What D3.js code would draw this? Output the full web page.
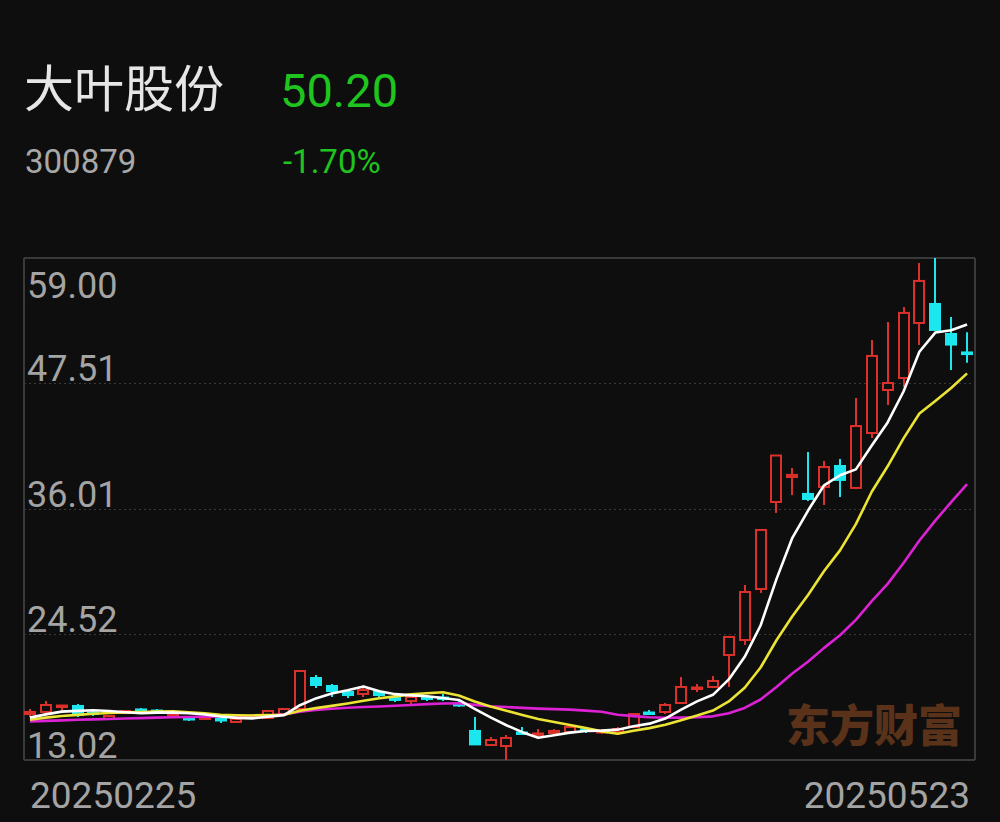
<!DOCTYPE html>
<html>
<head>
<meta charset="utf-8">
<script src="https://cdn.jsdelivr.net/npm/d3@7/dist/d3.min.js"></script>
<style>
html,body{margin:0;padding:0;background:#0e0e0e;}
svg{display:block;}
</style>
</head>
<body>
<svg id="chart" width="1000" height="822"></svg>
<script>
// ---------------- data ----------------
const stockName = "大叶股份";
const stockCode = "300879";
const lastPrice = "50.20";
const changePct = "-1.70%";
const watermark = "东方财富";

const dates = [
  "20250225","20250226","20250227","20250228",
  "20250303","20250304","20250305","20250306","20250307",
  "20250310","20250311","20250312","20250313","20250314",
  "20250317","20250318","20250319","20250320","20250321",
  "20250324","20250325","20250326","20250327","20250328",
  "20250331","20250401","20250402","20250403",
  "20250407","20250408","20250409","20250410","20250411",
  "20250414","20250415","20250416","20250417","20250418",
  "20250421","20250422","20250423","20250424","20250425",
  "20250428","20250429","20250430",
  "20250506","20250507","20250508","20250509",
  "20250512","20250513","20250514","20250515","20250516",
  "20250519","20250520","20250521","20250522","20250523"
];
const opens = [17.23,17.42,17.97,17.97,17.37,16.78,17.33,17.65,17.55,17.19,
  16.87,16.78,16.78,16.50,16.96,16.87,17.23,17.69,20.53,19.80,
  19.25,19.07,19.25,18.79,18.42,18.79,18.74,18.15,15.68,14.39,
  14.30,15.54,15.36,15.49,15.58,15.81,15.54,15.58,16.04,17.37,
  17.42,18.24,19.57,19.71,22.64,24.01,28.68,36.65,38.94,37.39,
  38.03,39.95,37.94,42.97,46.91,48.01,53.05,54.79,52.04,50.35];
const highs = [17.69,18.42,18.06,18.15,17.60,17.14,17.60,17.78,17.69,17.42,
  17.05,17.05,16.96,16.87,17.23,17.60,17.78,21.26,20.81,19.98,
  19.43,19.71,19.43,19.07,18.88,18.97,19.07,18.52,16.96,15.13,
  15.31,16.04,15.86,15.86,16.13,16.04,15.86,16.04,17.33,17.60,
  18.24,20.62,19.98,20.71,24.38,29.05,34.09,40.91,39.77,41.23,
  40.41,40.59,46.18,51.49,53.14,54.51,58.55,59.00,53.60,52.20];
const lows = [16.96,17.32,17.42,16.96,17.05,16.68,17.23,17.42,17.33,17.05,
  16.59,16.68,16.41,16.41,16.87,16.78,17.14,17.60,19.62,18.79,
  18.70,18.79,18.79,18.33,17.97,18.42,18.42,17.87,14.39,14.35,
  13.02,15.31,15.13,15.40,15.49,15.49,15.40,15.49,15.95,17.14,
  17.23,18.24,19.25,19.62,19.71,23.55,28.32,35.65,37.29,36.74,
  36.38,37.11,37.84,42.51,45.54,47.19,51.03,52.32,48.74,49.40];
const closes = [17.42,18.06,18.01,17.14,17.28,17.05,17.51,17.51,17.46,17.28,
  16.73,16.96,16.64,16.78,17.05,17.51,17.69,21.17,19.89,19.34,
  18.97,19.43,18.97,18.52,18.79,18.61,18.61,18.06,14.45,14.85,
  15.04,15.45,15.45,15.68,16.04,15.72,15.68,15.86,17.23,17.28,
  18.06,19.71,19.66,20.26,24.29,28.41,34.09,40.91,39.13,36.93,
  39.86,38.67,43.61,50.03,47.55,53.97,56.90,52.41,51.07,50.20];

// moving averages
const ma5 = [16.90,17.20,17.45,17.52,17.58,17.51,17.40,17.30,17.36,17.36,
  17.30,17.19,17.01,16.88,16.83,16.99,17.13,18.04,18.66,19.12,
  19.41,19.76,19.32,19.05,18.94,18.86,18.70,18.52,17.70,16.92,
  16.20,15.57,15.05,15.29,15.53,15.67,15.71,15.80,16.11,16.35,
  16.82,17.63,18.39,18.99,20.40,22.47,25.34,29.59,33.37,35.89,
  38.18,39.10,39.64,41.82,43.94,46.77,50.41,52.17,52.38,52.91];
const ma10 = [16.70,16.90,17.05,17.15,17.25,17.32,17.38,17.42,17.45,17.47,
  17.40,17.29,17.16,17.12,17.10,17.14,17.16,17.53,17.77,17.98,
  18.20,18.45,18.68,18.85,19.03,19.14,19.23,18.92,18.38,17.93,
  17.53,17.14,16.78,16.50,16.22,15.94,15.64,15.42,15.70,15.94,
  16.25,16.67,17.09,17.55,18.38,19.64,21.49,23.99,26.18,28.15,
  30.33,32.22,34.62,37.59,39.92,42.48,44.76,45.91,47.10,48.43];
const ma20 = [16.55,16.60,16.65,16.70,16.74,16.78,16.82,16.86,16.90,16.93,
  16.96,16.98,17.00,17.02,17.05,17.10,17.20,17.45,17.60,17.72,
  17.80,17.87,17.92,17.99,18.06,18.14,18.20,18.22,18.07,17.95,
  17.87,17.79,17.73,17.68,17.63,17.54,17.44,17.17,17.04,16.93,
  16.89,16.90,16.94,17.02,17.30,17.79,18.56,19.71,20.94,22.04,
  23.29,24.45,25.85,27.57,29.15,31.06,33.12,34.95,36.64,38.29];

const yTicks = [59.00, 47.51, 36.01, 24.52, 13.02];

// ---------------- drawing ----------------
const svg = d3.select("#chart");
const W = 1000, H = 822;
const plot = {left: 24, right: 975, top: 258, bottom: 760};
const UP = "#dc312b", DOWN = "#1ce6ee", BG = "#0e0e0e", GREEN = "#1fc41f";

svg.append("rect").attr("width", W).attr("height", H).attr("fill", BG);

// header
svg.append("text").attr("x", 24).attr("y", 107)
  .attr("font-family", "'Noto Sans CJK SC','Noto Sans',sans-serif")
  .attr("font-size", 50).attr("fill", "#e6e6e6").text(stockName);
svg.append("text").attr("x", 280).attr("y", 107)
  .attr("font-family", "Roboto,'Noto Sans',sans-serif")
  .attr("font-size", 47).attr("fill", GREEN).text(lastPrice);
svg.append("text").attr("x", 25).attr("y", 173)
  .attr("font-family", "Roboto,'Noto Sans',sans-serif")
  .attr("font-size", 33).attr("fill", "#a8a8a8").text(stockCode);
svg.append("text").attr("x", 283).attr("y", 173)
  .attr("font-family", "Roboto,'Noto Sans',sans-serif")
  .attr("font-size", 33).attr("fill", GREEN).text(changePct);

const x = d3.scaleBand().domain(dates).range([22, 975]).paddingInner(0).paddingOuter(0);
const y = d3.scaleLinear().domain([13.02, 59.00]).range([plot.bottom, plot.top]);
const cx = d => x(d) + x.bandwidth() / 2;

// grid (dotted, inner)
svg.append("g").selectAll("line").data(yTicks.slice(1, -1)).join("line")
  .attr("x1", plot.left).attr("x2", plot.right)
  .attr("y1", d => Math.round(y(d)) + 0.5).attr("y2", d => Math.round(y(d)) + 0.5)
  .attr("stroke", "#3a3a3a").attr("stroke-width", 1.2).attr("stroke-dasharray", "2,3");

// frame
const frame = svg.append("g").attr("stroke", "#3a3a3a").attr("stroke-width", 2).attr("fill", "none");
frame.append("line").attr("x1", plot.left).attr("x2", plot.right).attr("y1", plot.top).attr("y2", plot.top);
frame.append("line").attr("x1", plot.left).attr("x2", plot.right).attr("y1", plot.bottom).attr("y2", plot.bottom);
frame.append("line").attr("x1", plot.left).attr("x2", plot.left).attr("y1", plot.top).attr("y2", plot.bottom);
frame.append("line").attr("x1", plot.right).attr("x2", plot.right).attr("y1", plot.top).attr("y2", plot.bottom);

// y labels
svg.append("g").selectAll("text").data(yTicks).join("text")
  .attr("x", 27)
  .attr("y", (d, i) => i === 0 ? y(d) + 40 : y(d) - 2)
  .attr("font-family", "Roboto,'Noto Sans',sans-serif")
  .attr("font-size", 36).attr("fill", "#a4a4a4")
  .text(d => d.toFixed(2));

// x labels
svg.append("text").attr("x", 30).attr("y", 808)
  .attr("font-family", "Roboto,'Noto Sans',sans-serif")
  .attr("font-size", 37).attr("fill", "#a4a4a4").text(dates[0]);
svg.append("text").attr("x", 970).attr("y", 808).attr("text-anchor", "end")
  .attr("font-family", "Roboto,'Noto Sans',sans-serif")
  .attr("font-size", 37).attr("fill", "#a4a4a4").text(dates[dates.length - 1]);

// watermark
svg.append("text").attr("x", 786).attr("y", 742)
  .attr("font-family", "'Noto Sans CJK SC',sans-serif").attr("font-weight", 900)
  .attr("font-size", 44).attr("fill", "#5a321a").text(watermark);

// candles
const rows = dates.map((d, i) => ({d, o: opens[i], h: highs[i], l: lows[i], c: closes[i]}));
const bodyW = 10;
const cg = svg.append("g");
rows.forEach(r => {
  const up = r.c > r.o;
  const xc = Math.round(cx(r.d));
  const yTop = y(Math.max(r.o, r.c)), yBot = y(Math.min(r.o, r.c));
  const hgt = Math.max(1.5, yBot - yTop);
  if (up) {
    cg.append("line").attr("x1", xc).attr("x2", xc).attr("y1", y(r.h)).attr("y2", yTop)
      .attr("stroke", UP).attr("stroke-width", 2);
    cg.append("line").attr("x1", xc).attr("x2", xc).attr("y1", yTop + hgt).attr("y2", y(r.l))
      .attr("stroke", UP).attr("stroke-width", 2);
    cg.append("rect").attr("x", xc - bodyW / 2).attr("y", yTop).attr("width", bodyW).attr("height", hgt)
      .attr("fill", BG).attr("stroke", UP).attr("stroke-width", 2);
  } else {
    cg.append("line").attr("x1", xc).attr("x2", xc).attr("y1", y(r.h)).attr("y2", y(r.l))
      .attr("stroke", DOWN).attr("stroke-width", 2);
    cg.append("rect").attr("x", xc - bodyW / 2 - 1).attr("y", yTop - 1).attr("width", bodyW + 2).attr("height", hgt + 2)
      .attr("fill", DOWN);
  }
});

// moving averages
const lineGen = d3.line().x((v, i) => cx(dates[i])).y(v => y(v));
[[ma20, "#dc22d4"], [ma10, "#ece434"], [ma5, "#ffffff"]].forEach(([arr, col]) => {
  svg.append("path").attr("d", lineGen(arr)).attr("fill", "none")
    .attr("stroke", col).attr("stroke-width", 2.6).attr("stroke-linejoin", "round");
});
</script>
</body>
</html>
